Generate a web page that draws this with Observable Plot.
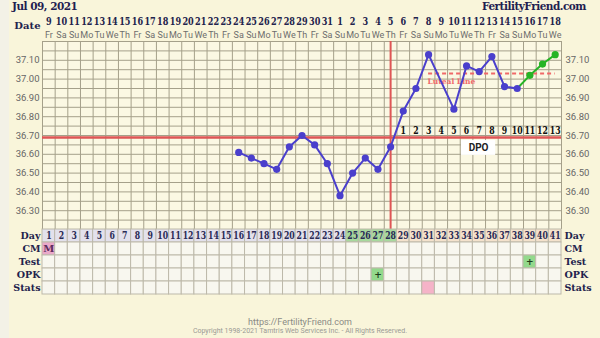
<!DOCTYPE html>
<html><head><meta charset="utf-8">
<script src="https://cdn.jsdelivr.net/npm/d3@7"></script>
<script src="https://cdn.jsdelivr.net/npm/@observablehq/plot@0.6"></script>
<style>
body{margin:0;background:#f9f5da;}
#wrap{position:relative;width:600px;height:338px;overflow:hidden;background:#f9f5da;font-family:Roboto,"DejaVu Sans",sans-serif;}
#strip{position:absolute;left:0;top:0;width:9px;height:338px;background:#f3f1e6;}
#chart{position:absolute;left:0;top:0;}
#table{position:absolute;left:0;top:229px;}
.hdr{position:absolute;font-family:"DejaVu Serif",serif;font-weight:bold;color:#1f2050;white-space:nowrap;letter-spacing:-0.5px;line-height:12px;}
#t1{left:12px;top:0px;font-size:10.5px;}
#t2{left:482px;top:0px;font-size:10.5px;}
.foot{position:absolute;left:0;width:600px;text-align:center;white-space:nowrap;}
#f1{top:317px;font-size:9px;color:#8a8a85;}
#f2{top:327px;font-size:7px;color:#9a9a95;}
svg{overflow:visible;}
</style></head><body>
<div id="wrap">
 <div id="strip"></div>
 <div id="chart"></div>
 <div id="table"></div>
 <div class="hdr" id="t1">Jul 09, 2021</div>
 <div class="hdr" id="t2">FertilityFriend.com</div>
 <div class="foot" id="f1">https://FertilityFriend.com</div>
 <div class="foot" id="f2">Copyright 1998-2021 Tamtris Web Services Inc. - All Rights Reserved.</div>
</div>
<script>
// ---------- data ----------
const cycleDays = [1,2,3,4,5,6,7,8,9,10,11,12,13,14,15,16,17,18,19,20,21,22,23,24,25,26,27,28,29,30,31,32,33,34,35,36,37,38,39,40,41];
const dateLabels = ["9","10","11","12","13","14","15","16","17","18","19","20","21","22","23","24","25","26","27","28","29","30","31","1","2","3","4","5","6","7","8","9","10","11","12","13","14","15","16","17","18"];
const weekdays = ["Fr","Sa","Su","Mo","Tu","We","Th","Fr","Sa","Su","Mo","Tu","We","Th","Fr","Sa","Su","Mo","Tu","We","Th","Fr","Sa","Su","Mo","Tu","We","Th","Fr","Sa","Su","Mo","Tu","We","Th","Fr","Sa","Su","Mo","Tu","We"];
const tempDays = [16,17,18,19,20,21,22,23,24,25,26,27,28,29,30,31,32,33,34,35,36,37,38,39,40,41];
const temps = [36.61,36.58,36.55,36.52,36.64,36.70,36.65,36.55,36.38,36.50,36.58,36.52,36.64,36.83,36.95,37.13,null,36.84,37.07,37.04,37.12,36.96,36.95,37.02,37.08,37.13];
const lastCycleDay = 38;            // blue series ends here, green continues
const yTickLabels = [36.30,36.40,36.50,36.60,36.70,36.80,36.90,37.00,37.10];
const coverline = 36.69;
const ovulationDay = 28;
const lutealLine = 37.03;
const lutealStart = 31, lutealEnd = 41;
const dpoDays = [29,30,31,32,33,34,35,36,37,38,39,40,41];
const dpoLabels = ["1","2","3","4","5","6","7","8","9","10","11","12","13"];
const rows = ["Day","CM","Test","OPK","Stats"];
const fertileDays = [25,26,27,28];
const cmEntries = [{day:1, text:"M"}];
const testEntries = [{day:39, text:"+"}];
const opkEntries = [{day:27, text:"+"}];
const statsEntries = [{day:31}];

// ---------- styles ----------
const SERIF = "'DejaVu Serif',serif";
const NUMF = "'DejaVu Serif',serif,numcol";   // marker so numbers can be narrowed
const SANS = "Roboto, 'DejaVu Sans', sans-serif";
const BLUE = "#4a3fcc", GREEN = "#25b425", RED = "#de5656", GRID = "#a5a08a";

const tempData = tempDays.map((d,i)=>({day:d, temp:temps[i]})).filter(d=>d.temp!=null);
const blueData = tempData.filter(d=>d.day<=lastCycleDay);
const greenData = tempData.filter(d=>d.day>=lastCycleDay);
const headerData = cycleDays.map((d,i)=>({day:d, date:dateLabels[i], wd:weekdays[i]}));
const dpoData = dpoDays.map((d,i)=>({day:d, label:dpoLabels[i]}));

const chart = Plot.plot({
  width:600, height:229, marginTop:41, marginBottom:0, marginLeft:42, marginRight:39,
  style:{background:"transparent", fontFamily:SANS, overflow:"visible"},
  x:{domain:[0.5,41.5], axis:null},
  y:{domain:[36.2,37.2], axis:null},
  marks:[
    Plot.frame({fill:"#fbf8e3", stroke:null}),
    Plot.ruleX(d3.range(0.5,42,1), {stroke:GRID, strokeWidth:1}),
    Plot.ruleY(d3.range(36.2,37.2001,0.05), {stroke:GRID, strokeWidth:1}),
    Plot.ruleY([coverline], {stroke:RED, strokeWidth:2.5}),
    Plot.ruleX([ovulationDay], {stroke:RED, strokeWidth:2}),
    Plot.ruleY([{y:lutealLine, x1:lutealStart, x2:lutealEnd}], {y:"y", x1:"x1", x2:"x2", stroke:"#f06868", strokeWidth:2, strokeDasharray:"4,3"}),
    Plot.text([{x:lutealStart, y:lutealLine}], {x:"x", y:"y", text:()=>"Luteal Line", dy:8, dx:-1, textAnchor:"start", fontSize:7.5, fontWeight:"bold", fontFamily:SERIF, fill:"#f06a6a"}),
    Plot.line(blueData, {x:"day", y:"temp", stroke:BLUE, strokeWidth:2}),
    Plot.line(greenData, {x:"day", y:"temp", stroke:GREEN, strokeWidth:2}),
    Plot.dot(blueData, {x:"day", y:"temp", r:3.6, fill:BLUE}),
    Plot.dot(greenData.filter(d=>d.day>lastCycleDay), {x:"day", y:"temp", r:3.6, fill:GREEN}),
    Plot.text(dpoData, {x:"day", y:()=>36.727, text:"label", fontSize:10.5, fontWeight:"bold", fontFamily:NUMF, fill:"#111"}),
    Plot.rect([{x1:33.6, x2:36.3, y1:36.594, y2:36.673}], {x1:"x1", x2:"x2", y1:"y1", y2:"y2", fill:"#ffffff"}),
    Plot.text([{x:34.95, y:36.634}], {x:"x", y:"y", text:()=>"DPO", fontSize:10, fontWeight:"bold", fill:"#222"}),
    Plot.text(yTickLabels, {y:d=>d, frameAnchor:"left", dx:-3, textAnchor:"end", text:d=>d.toFixed(2), fill:"#666", fontSize:9.5}),
    Plot.text(yTickLabels, {y:d=>d, frameAnchor:"right", dx:4, textAnchor:"start", text:d=>d.toFixed(2), fill:"#666", fontSize:9.5}),
    Plot.text(headerData, {x:"day", text:"date", frameAnchor:"top", dy:-24, fontSize:11, fontWeight:"bold", fontFamily:NUMF, fill:"#22224c"}),
    Plot.text(headerData, {x:"day", text:"wd", frameAnchor:"top", dy:-10, fontSize:9, fill:"#6d6d6d"}),
    Plot.text(["Date"], {frameAnchor:"top-left", dx:-2, dy:-20, textAnchor:"end", fontSize:10, fontWeight:"bold", fontFamily:SERIF, fill:"#22224c"})
  ]
});
document.getElementById("chart").append(chart);

// ---------- table ----------
function cellFill(row, day){
  if (row==="Day") return fertileDays.includes(day) ? "#a7d99d" : (day>ovulationDay ? "#f4e2cc" : "#e3e1ec");
  if (row==="CM" && cmEntries.some(e=>e.day===day)) return "#eaa9c9";
  if (row==="Test" && testEntries.some(e=>e.day===day)) return "#93d98c";
  if (row==="OPK" && opkEntries.some(e=>e.day===day)) return "#93d98c";
  if (row==="Stats" && statsEntries.some(e=>e.day===day)) return "#f5b3c8";
  return "#f8f7ef";
}
const cells = rows.flatMap(r => cycleDays.map(d => ({row:r, day:d, fill:cellFill(r,d)})));
const marks2 = [
  ...cmEntries.map(e=>({row:"CM", day:e.day, text:e.text, color:"#5e2d5e", size:10})),
  ...testEntries.map(e=>({row:"Test", day:e.day, text:e.text, color:"#1d3d1d", size:9})),
  ...opkEntries.map(e=>({row:"OPK", day:e.day, text:e.text, color:"#1d3d1d", size:9}))
];
const table = Plot.plot({
  width:600, height:65, marginTop:0, marginBottom:0, marginLeft:42, marginRight:39,
  style:{background:"transparent", fontFamily:SANS, overflow:"visible"},
  x:{domain:[0.5,41.5], axis:null},
  y:{domain:rows, axis:null, padding:0},
  color:{type:"identity"},
  marks:[
    Plot.barX(cells, {x1:d=>d.day-0.5, x2:d=>d.day+0.5, y:"row", fill:"fill", stroke:"#bdb9aa", strokeWidth:1}),
    Plot.text(cycleDays, {x:d=>d, y:()=>"Day", text:d=>String(d), fontSize:10.5, fontWeight:"bold", fontFamily:NUMF, fill:"#2a2a55"}),
    Plot.text(marks2, {x:"day", y:"row", text:"text", fill:"color", fontSize:"size", fontWeight:"bold", fontFamily:SERIF}),
    Plot.text(rows, {y:d=>d, frameAnchor:"left", dx:-2, textAnchor:"end", text:d=>d, fontSize:9.5, fontWeight:"bold", fontFamily:SERIF, fill:"#22224c", letterSpacing:-0.5}),
    Plot.text(rows, {y:d=>d, frameAnchor:"right", dx:3, textAnchor:"start", text:d=>d, fontSize:9.5, fontWeight:"bold", fontFamily:SERIF, fill:"#22224c"})
  ]
});
document.getElementById("table").append(table);

// narrow the bold serif column numbers horizontally so two digits fit one column
document.querySelectorAll("svg g[font-family*='numcol'] text").forEach(t => {
  const tr = t.getAttribute("transform");
  if (tr) {
    t.setAttribute("transform", tr + " scale(0.74,1)");
  } else {
    const x = +t.getAttribute("x") || 0, y = +t.getAttribute("y") || 0;
    t.removeAttribute("x"); t.removeAttribute("y");
    t.setAttribute("transform", `translate(${x},${y}) scale(0.74,1)`);
  }
});
</script>
</body></html>
